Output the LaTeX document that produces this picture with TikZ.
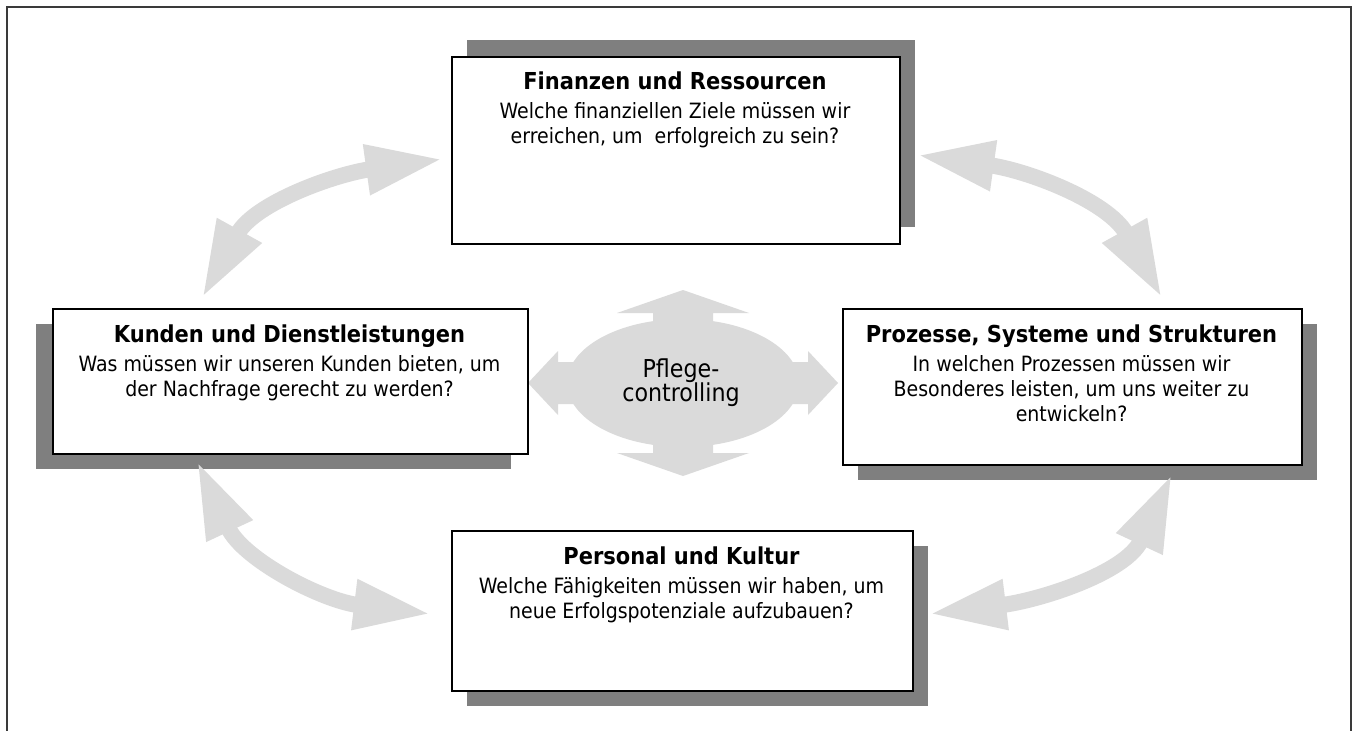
\documentclass[tikz,border=0pt]{standalone}
\usepackage{fontspec}
\setmainfont{DejaVu Sans Condensed}
\usetikzlibrary{arrows.meta,shapes.geometric}
\definecolor{shadowgray}{HTML}{7F7F7F}
\definecolor{arrowgray}{HTML}{DADADA}
\definecolor{framegray}{HTML}{3A3A3A}
\begin{document}
\begin{tikzpicture}[x=0.75pt,y=-0.75pt,
  boxstyle/.style={draw=black, line width=1.5pt, fill=white, rectangle, inner sep=0pt, anchor=north west},
  shadowstyle/.style={fill=shadowgray, draw=none, rectangle, inner sep=0pt, anchor=north west},
  titlestyle/.style={font=\fontsize{17.5}{20}\selectfont\bfseries, anchor=base, inner sep=0pt},
  bodystyle/.style={font=\fontsize{15.8}{19}\selectfont, anchor=base, inner sep=0pt},
  centerstyle/.style={font=\fontsize{18.5}{22}\selectfont, anchor=base, inner sep=0pt},
  bigarrow/.style={draw=arrowgray, line width=12pt, {Triangle[length=58pt,width=35pt]}-{Triangle[length=58pt,width=35pt]}}
]
\useasboundingbox (0,0) rectangle (1356,731);
\fill[white] (0,0) rectangle (1356,731);
% frame
\draw[framegray, line width=1.5pt] (7,731) -- (7,7) -- (1351,7) -- (1351,731);

% shadows
\node[shadowstyle, minimum width=336pt, minimum height=140.25pt] (topsh) at (467,40) {};
\node[shadowstyle, minimum width=356.25pt, minimum height=108.75pt] (leftsh) at (36,324) {};
\node[shadowstyle, minimum width=344.25pt, minimum height=117pt] (rightsh) at (858,324) {};
\node[shadowstyle, minimum width=345.75pt, minimum height=120pt] (botsh) at (467,546) {};

% arrow ends
\coordinate (tla) at (202,298);
\coordinate (tlb) at (443,159);
\coordinate (tra) at (917,155);
\coordinate (trb) at (1162,298);
\coordinate (bla) at (197,461);
\coordinate (blb) at (431,614);
\coordinate (bra) at (1172,474);
\coordinate (brb) at (929,614);

\draw[bigarrow] (tla) to[out=61,in=188] (tlb);
\draw[bigarrow] (tra) to[out=352,in=119] (trb);
\draw[bigarrow] (bla) to[out=295,in=173] (blb);
\draw[bigarrow] (bra) to[out=245,in=7] (brb);

% centre quad arrow
\fill[arrowgray] (683,290) -- (617,313) -- (653,313) -- (653,340) -- (713,340) -- (713,313) -- (749,313) -- cycle;
\fill[arrowgray] (683,476) -- (617,453) -- (653,453) -- (653,426) -- (713,426) -- (713,453) -- (749,453) -- cycle;
\fill[arrowgray] (528,383) -- (558,351) -- (558,362) -- (590,362) -- (590,404) -- (558,404) -- (558,415) -- cycle;
\fill[arrowgray] (838,383) -- (808,351) -- (808,362) -- (776,362) -- (776,404) -- (808,404) -- (808,415) -- cycle;
\node[ellipse, fill=arrowgray, draw=none, minimum width=174pt, minimum height=96pt, inner sep=0pt] (pc) at (683,383) {};
\node[centerstyle] (pc1) at (681,377) {Pflege-};
\node[centerstyle] (pc2) at (681,401) {controlling};

% boxes
\node[boxstyle, minimum width=336pt, minimum height=140.25pt] (topbox) at (451,56) {};
\node[boxstyle, minimum width=356.25pt, minimum height=108.75pt] (leftbox) at (52,308) {};
\node[boxstyle, minimum width=344.25pt, minimum height=117pt] (rightbox) at (842,308) {};
\node[boxstyle, minimum width=345.75pt, minimum height=120pt] (botbox) at (451,530) {};

% texts
\node[titlestyle] (t1) at (675,90) {Finanzen und Ressourcen};
\node[bodystyle] (t2) at (675,119) {Welche finanziellen Ziele müssen wir};
\node[bodystyle] (t3) at (675,144) {erreichen, um \ erfolgreich zu sein?};

\node[titlestyle] (l1) at (289.5,342) {Kunden und Dienstleistungen};
\node[bodystyle] (l2) at (289.5,371) {Was müssen wir unseren Kunden bieten, um};
\node[bodystyle] (l3) at (289.5,396) {der Nachfrage gerecht zu werden?};

\node[titlestyle] (r1) at (1071.5,342) {Prozesse, Systeme und Strukturen};
\node[bodystyle] (r2) at (1071.5,371) {In welchen Prozessen müssen wir};
\node[bodystyle] (r3) at (1071.5,396) {Besonderes leisten, um uns weiter zu};
\node[bodystyle] (r4) at (1071.5,421) {entwickeln?};

\node[titlestyle] (b1) at (681.5,564) {Personal und Kultur};
\node[bodystyle] (b2) at (681.5,593) {Welche Fähigkeiten müssen wir haben, um};
\node[bodystyle] (b3) at (681.5,618) {neue Erfolgspotenziale aufzubauen?};
\end{tikzpicture}
\end{document}
